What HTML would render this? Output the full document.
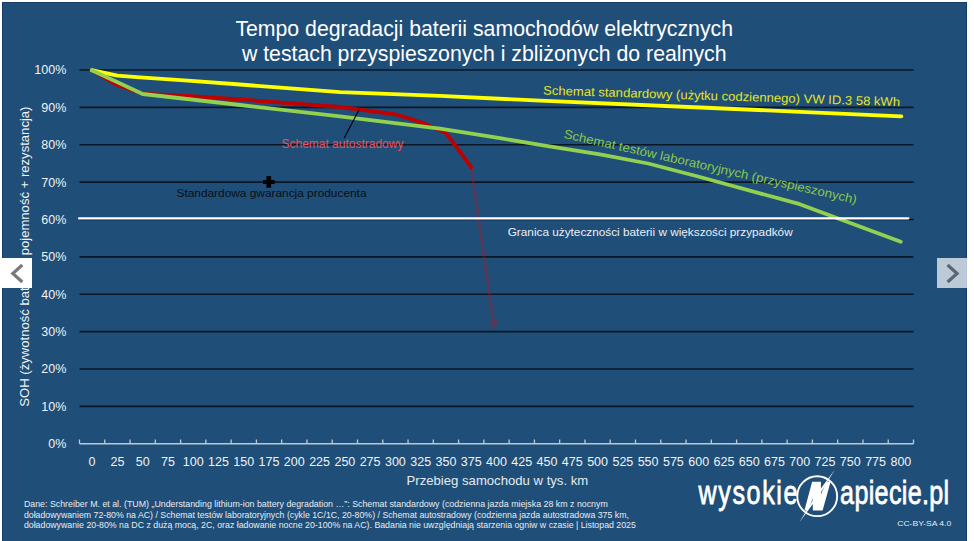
<!DOCTYPE html>
<html><head><meta charset="utf-8"><style>
html,body{margin:0;padding:0;background:#FFFFFF;width:974px;height:541px;overflow:hidden}
svg{display:block;font-family:"Liberation Sans", sans-serif}
</style></head><body>
<svg width="974" height="541" viewBox="0 0 974 541" font-family='"Liberation Sans", sans-serif'>
<rect x="2" y="2" width="965" height="545" fill="#1F4E79"/>
<rect x="2.5" y="2.5" width="964" height="545" fill="none" stroke="#143E6A" stroke-width="1"/>
<line x1="79.5" y1="406.38" x2="913.5" y2="406.38" stroke="#0B1725" stroke-width="1.6"/>
<line x1="79.5" y1="369.01" x2="913.5" y2="369.01" stroke="#0B1725" stroke-width="1.6"/>
<line x1="79.5" y1="331.64" x2="913.5" y2="331.64" stroke="#0B1725" stroke-width="1.6"/>
<line x1="79.5" y1="294.27" x2="913.5" y2="294.27" stroke="#0B1725" stroke-width="1.6"/>
<line x1="79.5" y1="256.90" x2="913.5" y2="256.90" stroke="#0B1725" stroke-width="1.6"/>
<line x1="79.5" y1="219.53" x2="913.5" y2="219.53" stroke="#0B1725" stroke-width="1.6"/>
<line x1="79.5" y1="182.16" x2="913.5" y2="182.16" stroke="#0B1725" stroke-width="1.6"/>
<line x1="79.5" y1="144.79" x2="913.5" y2="144.79" stroke="#0B1725" stroke-width="1.6"/>
<line x1="79.5" y1="107.42" x2="913.5" y2="107.42" stroke="#0B1725" stroke-width="1.6"/>
<line x1="79.5" y1="70.05" x2="913.5" y2="70.05" stroke="#0B1725" stroke-width="1.6"/>
<line x1="79.5" y1="443.7" x2="913.5" y2="443.7" stroke="#BFC9D3" stroke-width="1.5"/>
<line x1="79.50" y1="439.5" x2="79.50" y2="443.7" stroke="#BFC9D3" stroke-width="1.3"/>
<line x1="104.77" y1="439.5" x2="104.77" y2="443.7" stroke="#BFC9D3" stroke-width="1.3"/>
<line x1="130.05" y1="439.5" x2="130.05" y2="443.7" stroke="#BFC9D3" stroke-width="1.3"/>
<line x1="155.32" y1="439.5" x2="155.32" y2="443.7" stroke="#BFC9D3" stroke-width="1.3"/>
<line x1="180.59" y1="439.5" x2="180.59" y2="443.7" stroke="#BFC9D3" stroke-width="1.3"/>
<line x1="205.86" y1="439.5" x2="205.86" y2="443.7" stroke="#BFC9D3" stroke-width="1.3"/>
<line x1="231.14" y1="439.5" x2="231.14" y2="443.7" stroke="#BFC9D3" stroke-width="1.3"/>
<line x1="256.41" y1="439.5" x2="256.41" y2="443.7" stroke="#BFC9D3" stroke-width="1.3"/>
<line x1="281.68" y1="439.5" x2="281.68" y2="443.7" stroke="#BFC9D3" stroke-width="1.3"/>
<line x1="306.95" y1="439.5" x2="306.95" y2="443.7" stroke="#BFC9D3" stroke-width="1.3"/>
<line x1="332.23" y1="439.5" x2="332.23" y2="443.7" stroke="#BFC9D3" stroke-width="1.3"/>
<line x1="357.50" y1="439.5" x2="357.50" y2="443.7" stroke="#BFC9D3" stroke-width="1.3"/>
<line x1="382.77" y1="439.5" x2="382.77" y2="443.7" stroke="#BFC9D3" stroke-width="1.3"/>
<line x1="408.05" y1="439.5" x2="408.05" y2="443.7" stroke="#BFC9D3" stroke-width="1.3"/>
<line x1="433.32" y1="439.5" x2="433.32" y2="443.7" stroke="#BFC9D3" stroke-width="1.3"/>
<line x1="458.59" y1="439.5" x2="458.59" y2="443.7" stroke="#BFC9D3" stroke-width="1.3"/>
<line x1="483.86" y1="439.5" x2="483.86" y2="443.7" stroke="#BFC9D3" stroke-width="1.3"/>
<line x1="509.14" y1="439.5" x2="509.14" y2="443.7" stroke="#BFC9D3" stroke-width="1.3"/>
<line x1="534.41" y1="439.5" x2="534.41" y2="443.7" stroke="#BFC9D3" stroke-width="1.3"/>
<line x1="559.68" y1="439.5" x2="559.68" y2="443.7" stroke="#BFC9D3" stroke-width="1.3"/>
<line x1="584.95" y1="439.5" x2="584.95" y2="443.7" stroke="#BFC9D3" stroke-width="1.3"/>
<line x1="610.23" y1="439.5" x2="610.23" y2="443.7" stroke="#BFC9D3" stroke-width="1.3"/>
<line x1="635.50" y1="439.5" x2="635.50" y2="443.7" stroke="#BFC9D3" stroke-width="1.3"/>
<line x1="660.77" y1="439.5" x2="660.77" y2="443.7" stroke="#BFC9D3" stroke-width="1.3"/>
<line x1="686.05" y1="439.5" x2="686.05" y2="443.7" stroke="#BFC9D3" stroke-width="1.3"/>
<line x1="711.32" y1="439.5" x2="711.32" y2="443.7" stroke="#BFC9D3" stroke-width="1.3"/>
<line x1="736.59" y1="439.5" x2="736.59" y2="443.7" stroke="#BFC9D3" stroke-width="1.3"/>
<line x1="761.86" y1="439.5" x2="761.86" y2="443.7" stroke="#BFC9D3" stroke-width="1.3"/>
<line x1="787.14" y1="439.5" x2="787.14" y2="443.7" stroke="#BFC9D3" stroke-width="1.3"/>
<line x1="812.41" y1="439.5" x2="812.41" y2="443.7" stroke="#BFC9D3" stroke-width="1.3"/>
<line x1="837.68" y1="439.5" x2="837.68" y2="443.7" stroke="#BFC9D3" stroke-width="1.3"/>
<line x1="862.95" y1="439.5" x2="862.95" y2="443.7" stroke="#BFC9D3" stroke-width="1.3"/>
<line x1="888.23" y1="439.5" x2="888.23" y2="443.7" stroke="#BFC9D3" stroke-width="1.3"/>
<line x1="913.50" y1="439.5" x2="913.50" y2="443.7" stroke="#BFC9D3" stroke-width="1.3"/>
<text x="92.1" y="466" text-anchor="middle" font-size="12.5" fill="#F2F2F2">0</text>
<text x="117.4" y="466" text-anchor="middle" font-size="12.5" fill="#F2F2F2">25</text>
<text x="142.7" y="466" text-anchor="middle" font-size="12.5" fill="#F2F2F2">50</text>
<text x="168.0" y="466" text-anchor="middle" font-size="12.5" fill="#F2F2F2">75</text>
<text x="193.2" y="466" text-anchor="middle" font-size="12.5" fill="#F2F2F2">100</text>
<text x="218.5" y="466" text-anchor="middle" font-size="12.5" fill="#F2F2F2">125</text>
<text x="243.8" y="466" text-anchor="middle" font-size="12.5" fill="#F2F2F2">150</text>
<text x="269.0" y="466" text-anchor="middle" font-size="12.5" fill="#F2F2F2">175</text>
<text x="294.3" y="466" text-anchor="middle" font-size="12.5" fill="#F2F2F2">200</text>
<text x="319.6" y="466" text-anchor="middle" font-size="12.5" fill="#F2F2F2">225</text>
<text x="344.9" y="466" text-anchor="middle" font-size="12.5" fill="#F2F2F2">250</text>
<text x="370.1" y="466" text-anchor="middle" font-size="12.5" fill="#F2F2F2">275</text>
<text x="395.4" y="466" text-anchor="middle" font-size="12.5" fill="#F2F2F2">300</text>
<text x="420.7" y="466" text-anchor="middle" font-size="12.5" fill="#F2F2F2">325</text>
<text x="446.0" y="466" text-anchor="middle" font-size="12.5" fill="#F2F2F2">350</text>
<text x="471.2" y="466" text-anchor="middle" font-size="12.5" fill="#F2F2F2">375</text>
<text x="496.5" y="466" text-anchor="middle" font-size="12.5" fill="#F2F2F2">400</text>
<text x="521.8" y="466" text-anchor="middle" font-size="12.5" fill="#F2F2F2">425</text>
<text x="547.0" y="466" text-anchor="middle" font-size="12.5" fill="#F2F2F2">450</text>
<text x="572.3" y="466" text-anchor="middle" font-size="12.5" fill="#F2F2F2">475</text>
<text x="597.6" y="466" text-anchor="middle" font-size="12.5" fill="#F2F2F2">500</text>
<text x="622.9" y="466" text-anchor="middle" font-size="12.5" fill="#F2F2F2">525</text>
<text x="648.1" y="466" text-anchor="middle" font-size="12.5" fill="#F2F2F2">550</text>
<text x="673.4" y="466" text-anchor="middle" font-size="12.5" fill="#F2F2F2">575</text>
<text x="698.7" y="466" text-anchor="middle" font-size="12.5" fill="#F2F2F2">600</text>
<text x="724.0" y="466" text-anchor="middle" font-size="12.5" fill="#F2F2F2">625</text>
<text x="749.2" y="466" text-anchor="middle" font-size="12.5" fill="#F2F2F2">650</text>
<text x="774.5" y="466" text-anchor="middle" font-size="12.5" fill="#F2F2F2">675</text>
<text x="799.8" y="466" text-anchor="middle" font-size="12.5" fill="#F2F2F2">700</text>
<text x="825.0" y="466" text-anchor="middle" font-size="12.5" fill="#F2F2F2">725</text>
<text x="850.3" y="466" text-anchor="middle" font-size="12.5" fill="#F2F2F2">750</text>
<text x="875.6" y="466" text-anchor="middle" font-size="12.5" fill="#F2F2F2">775</text>
<text x="900.9" y="466" text-anchor="middle" font-size="12.5" fill="#F2F2F2">800</text>
<text x="66.3" y="448.1" text-anchor="end" font-size="12.5" fill="#F2F2F2">0%</text>
<text x="66.3" y="410.7" text-anchor="end" font-size="12.5" fill="#F2F2F2">10%</text>
<text x="66.3" y="373.3" text-anchor="end" font-size="12.5" fill="#F2F2F2">20%</text>
<text x="66.3" y="335.9" text-anchor="end" font-size="12.5" fill="#F2F2F2">30%</text>
<text x="66.3" y="298.6" text-anchor="end" font-size="12.5" fill="#F2F2F2">40%</text>
<text x="66.3" y="261.2" text-anchor="end" font-size="12.5" fill="#F2F2F2">50%</text>
<text x="66.3" y="223.8" text-anchor="end" font-size="12.5" fill="#F2F2F2">60%</text>
<text x="66.3" y="186.5" text-anchor="end" font-size="12.5" fill="#F2F2F2">70%</text>
<text x="66.3" y="149.1" text-anchor="end" font-size="12.5" fill="#F2F2F2">80%</text>
<text x="66.3" y="111.7" text-anchor="end" font-size="12.5" fill="#F2F2F2">90%</text>
<text x="66.3" y="74.3" text-anchor="end" font-size="12.5" fill="#F2F2F2">100%</text>
<text x="484.2" y="35.9" text-anchor="middle" font-size="21.28" fill="#FFFFFF">Tempo degradacji baterii samochodów elektrycznych</text>
<text x="484.2" y="60.8" text-anchor="middle" font-size="21.28" fill="#FFFFFF">w testach przyspieszonych i zbliżonych do realnych</text>
<text x="497.4" y="485.2" text-anchor="middle" font-size="13" fill="#E6EAEE" textLength="181.6" lengthAdjust="spacingAndGlyphs">Przebieg samochodu w tys. km</text>
<text transform="translate(28.9,406.7) rotate(-90)" x="0" y="0" font-size="13.1" fill="#F2F2F2">SOH (żywotność baterii – pojemność + rezystancja)</text>
<g opacity="0.25"><line x1="471.2" y1="167.2" x2="493.3" y2="321" stroke="#F00000" stroke-width="2.9"/>
<polygon points="488.4,320.8 498.4,319.4 494.6,329.8" fill="#F00000"/></g>
<polyline points="91.8,70.2 117.4,85.0 142.7,93.6 191.3,96.2 240.0,99.5 340.0,107.0 395.4,114.3 420.7,122.3 445.9,132.8 471.2,167.2" fill="none" stroke="#C00000" stroke-width="3.8" stroke-linejoin="round" stroke-linecap="round"/>
<polyline points="91.8,70.2 117.4,75.7 140.0,77.4 191.3,80.8 240.0,84.5 340.0,92.2 440.0,95.8 540.0,100.7 700.0,107.5 800.0,111.8 901.4,116.4" fill="none" stroke="#FFFF00" stroke-width="3.8" stroke-linejoin="round" stroke-linecap="round"/>
<polyline points="91.8,70.2 142.7,94.0 240.0,105.0 340.0,116.3 440.0,128.6 500.0,138.2 546.2,145.9 600.0,154.4 648.1,163.5 700.0,177.0 799.8,204.2 900.8,241.7" fill="none" stroke="#92D050" stroke-width="3.8" stroke-linejoin="round" stroke-linecap="round"/>
<line x1="79" y1="218.3" x2="908.4" y2="218.3" stroke="#FFFFFF" stroke-width="2.2" stroke-linecap="round"/>
<line x1="359.5" y1="109.1" x2="344.2" y2="137.9" stroke="#000000" stroke-width="1.1"/>
<rect x="263" y="180" width="11.7" height="4" fill="#000"/>
<rect x="266.4" y="176.1" width="4.7" height="11.6" fill="#000"/>
<text x="281.5" y="148.4" font-size="12" fill="#E8505A" textLength="121.9" lengthAdjust="spacingAndGlyphs">Schemat autostradowy</text>
<text x="176.5" y="196.8" font-size="11.8" fill="#0A0F14" textLength="190" lengthAdjust="spacingAndGlyphs">Standardowa gwarancja producenta</text>
<text x="507.7" y="235.9" font-size="11.8" fill="#ECEFF3" textLength="285" lengthAdjust="spacingAndGlyphs">Granica użyteczności baterii w większości przypadków</text>
<text transform="translate(543.1,94.4) rotate(1.9)" x="0" y="0" font-size="12.5" fill="#E6E61E" textLength="357" lengthAdjust="spacingAndGlyphs">Schemat standardowy (użytku codziennego) VW ID.3 58 kWh</text>
<text transform="translate(563.2,137.8) rotate(12.7)" x="0" y="0" font-size="12.4" fill="#8CC84B" textLength="300" lengthAdjust="spacingAndGlyphs">Schemat testów laboratoryjnych (przyspieszonych)</text>
<text x="23.9" y="506.80" font-size="8.7" fill="#E8ECF0" textLength="583.9" lengthAdjust="spacingAndGlyphs">Dane: Schreiber M. et al. (TUM) „Understanding lithium-ion battery degradation …”: Schemat standardowy (codzienna jazda miejska 28 km z nocnym</text>
<text x="23.9" y="517.55" font-size="8.7" fill="#E8ECF0" textLength="605" lengthAdjust="spacingAndGlyphs">doładowywaniem 72-80% na AC) / Schemat testów laboratoryjnych (cykle 1C/1C, 20-80%) / Schemat autostradowy (codzienna jazda autostradowa 375 km,</text>
<text x="23.9" y="528.30" font-size="8.7" fill="#E8ECF0" textLength="612" lengthAdjust="spacingAndGlyphs">doładowywanie 20-80% na DC z dużą mocą, 2C, oraz ładowanie nocne 20-100% na AC). Badania nie uwzględniają starzenia ogniw w czasie | Listopad 2025</text>
<text transform="translate(698.5,504.1) scale(0.75,1)" x="0" y="0" font-size="33.5" fill="#FFFFFF" stroke="#FFFFFF" stroke-width="0.8" textLength="132" lengthAdjust="spacing">wysokie</text>
<text transform="translate(840.1,504.1) scale(0.75,1)" x="0" y="0" font-size="33.5" fill="#FFFFFF" stroke="#FFFFFF" stroke-width="0.8" textLength="145.5" lengthAdjust="spacing">apiecie.pl</text>
<circle cx="817.2" cy="496.2" r="19.95" fill="none" stroke="#FFFFFF" stroke-width="1.9"/>
<polygon points="812.1,481.7 820.9,481.7 820.9,494.5 826.3,481.7 830.6,481.7 822.6,510.6 812.8,510.6 812.8,498.5 807.8,510.6 804.4,510.6" fill="#FFFFFF"/>
<polygon points="834.9,469.6 818.21,496.78 799.2,522.4 815.89,495.22" fill="#FFFFFF"/>
<text x="897.2" y="525.8" font-size="7.2" fill="#E8ECF0" textLength="54" lengthAdjust="spacingAndGlyphs">CC-BY-SA 4.0</text>
<rect x="0" y="258" width="32" height="30" fill="#FFFFFF"/>
<polyline points="22.3,265 12.8,273.5 22.3,282" fill="none" stroke="#7A7A7A" stroke-width="3.2"/>
<rect x="937" y="258" width="30" height="30" fill="#FFFFFF" fill-opacity="0.7"/>
<polyline points="947.6,265 957.1,273.5 947.6,282" fill="none" stroke="#5C6670" stroke-width="3.2"/>
</svg>
</body></html>
